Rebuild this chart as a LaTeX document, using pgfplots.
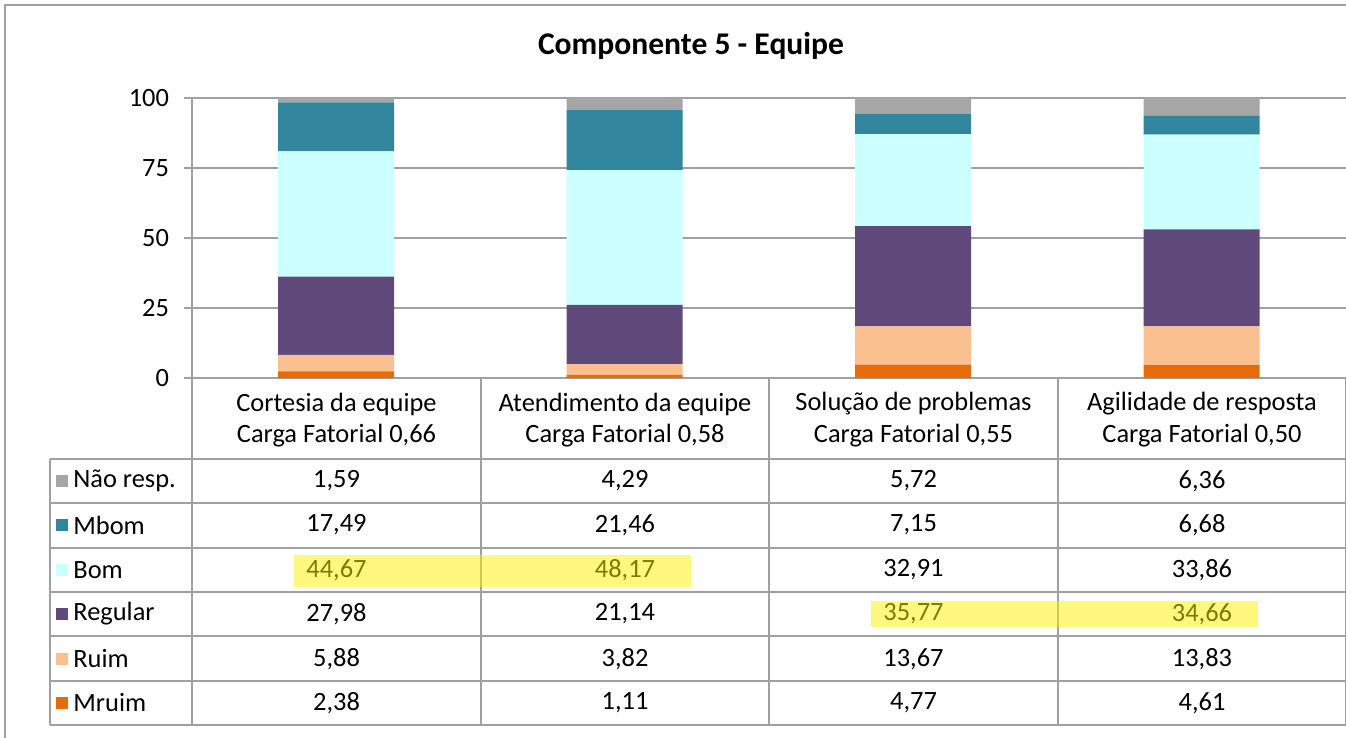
\documentclass[border=0pt]{standalone}
\usepackage{pgfplots}
\pgfplotsset{compat=1.18}
\usepackage{fontspec}
\setmainfont{Carlito}
\definecolor{cMruim}{HTML}{E46C0A}
\definecolor{cRuim}{HTML}{FAC090}
\definecolor{cRegular}{HTML}{604A7B}
\definecolor{cBom}{HTML}{CCFFFF}
\definecolor{cMbom}{HTML}{31859C}
\definecolor{cNao}{HTML}{A6A6A6}
\definecolor{lineg}{HTML}{A0A0A0}
\newcommand\PX[2]{({(#1-192)*0.5pt},{(378-#2)*0.5pt})}
\newcommand\bodyfont{\fontsize{13.2}{15.8}\selectfont}
\newcommand\rowvals[5]{%
  \node at \PX{336.5}{#1} {#2};
  \node at \PX{625}{#1} {#3};
  \node at \PX{913.5}{#1} {#4};
  \node at \PX{1202}{#1} {#5};}
\begin{document}
\begin{tikzpicture}
\path[use as bounding box] \PX{0}{0} rectangle \PX{1346}{738};
% outer chart border
\draw[lineg, line width=0.6pt] \PX{5}{738} -- \PX{5}{5} -- \PX{1346}{5};
\node[font=\fontsize{15.8}{19}\selectfont\bfseries] at \PX{691}{46} {Componente 5 - Equipe};
\begin{axis}[at={(0,0)}, anchor=south west, scale only axis,
  width=577pt, height=140pt,
  xmin=-0.5, xmax=3.5, ymin=0, ymax=100,
  ybar stacked, bar width=58pt,
  axis x line*=bottom, axis y line*=left,
  axis line style={draw=lineg, line width=0.8pt, -},
  xtick=\empty,
  ytick={0,25,50,75,100},
  ymajorgrids, grid style={lineg, line width=0.8pt},
  tick align=outside, major tick length=4pt,
  tick style={lineg, line width=0.8pt},
  yticklabel style={font=\bodyfont, xshift=-4pt},
  /pgf/number format/assume math mode=true,
  clip=false]
\addplot[fill=cMruim, draw=none] coordinates {(0,2.38) (1,1.11) (2,4.77) (3,4.61)};
\addplot[fill=cRuim, draw=none] coordinates {(0,5.88) (1,3.82) (2,13.67) (3,13.83)};
\addplot[fill=cRegular, draw=none] coordinates {(0,27.98) (1,21.14) (2,35.77) (3,34.66)};
\addplot[fill=cBom, draw=none] coordinates {(0,44.67) (1,48.17) (2,32.91) (3,33.86)};
\addplot[fill=cMbom, draw=none] coordinates {(0,17.49) (1,21.46) (2,7.15) (3,6.68)};
\addplot[fill=cNao, draw=none] coordinates {(0,1.59) (1,4.29) (2,5.72) (3,6.36)};
\end{axis}
% table grid
\begin{scope}[lineg, line width=0.8pt]
\foreach \x in {192,481,769,1058,1346} {\draw \PX{\x}{378} -- \PX{\x}{725};}
\draw \PX{50}{459} -- \PX{50}{725};
\foreach \y in {459,503,548,592,636,681,725} {\draw \PX{50}{\y} -- \PX{1346}{\y};}
\end{scope}
% header
\begin{scope}[font=\bodyfont]
\node at \PX{336.5}{404} {Cortesia da equipe};
\node at \PX{336.5}{436} {Carga Fatorial 0,66};
\node at \PX{625}{404} {Atendimento da equipe};
\node at \PX{625}{436} {Carga Fatorial 0,58};
\node at \PX{913.5}{404} {Solução de problemas};
\node at \PX{913.5}{436} {Carga Fatorial 0,55};
\node at \PX{1202}{404} {Agilidade de resposta};
\node at \PX{1202}{436} {Carga Fatorial 0,50};
% legend column
\foreach \y/\c/\t in {481/cNao/Não resp., 525/cMbom/Mbom, 570/cBom/Bom, 614/cRegular/Regular, 659/cRuim/Ruim, 703/cMruim/Mruim} {
  \fill[\c] \PX{56}{\y-6} rectangle \PX{68}{\y+6};
  \node[anchor=west, inner sep=0pt] at \PX{73}{\y} {\t};
}
% values
\rowvals{481}{1,59}{4,29}{5,72}{6,36}
\rowvals{525}{17,49}{21,46}{7,15}{6,68}
\rowvals{570}{44,67}{48,17}{32,91}{33,86}
\rowvals{614}{27,98}{21,14}{35,77}{34,66}
\rowvals{659}{5,88}{3,82}{13,67}{13,83}
\rowvals{703}{2,38}{1,11}{4,77}{4,61}
\end{scope}
% highlights
\fill[yellow, opacity=0.5] \PX{294}{555} rectangle \PX{691}{587};
\fill[yellow, opacity=0.5] \PX{871}{601} rectangle \PX{1258}{627};
\end{tikzpicture}
\end{document}
